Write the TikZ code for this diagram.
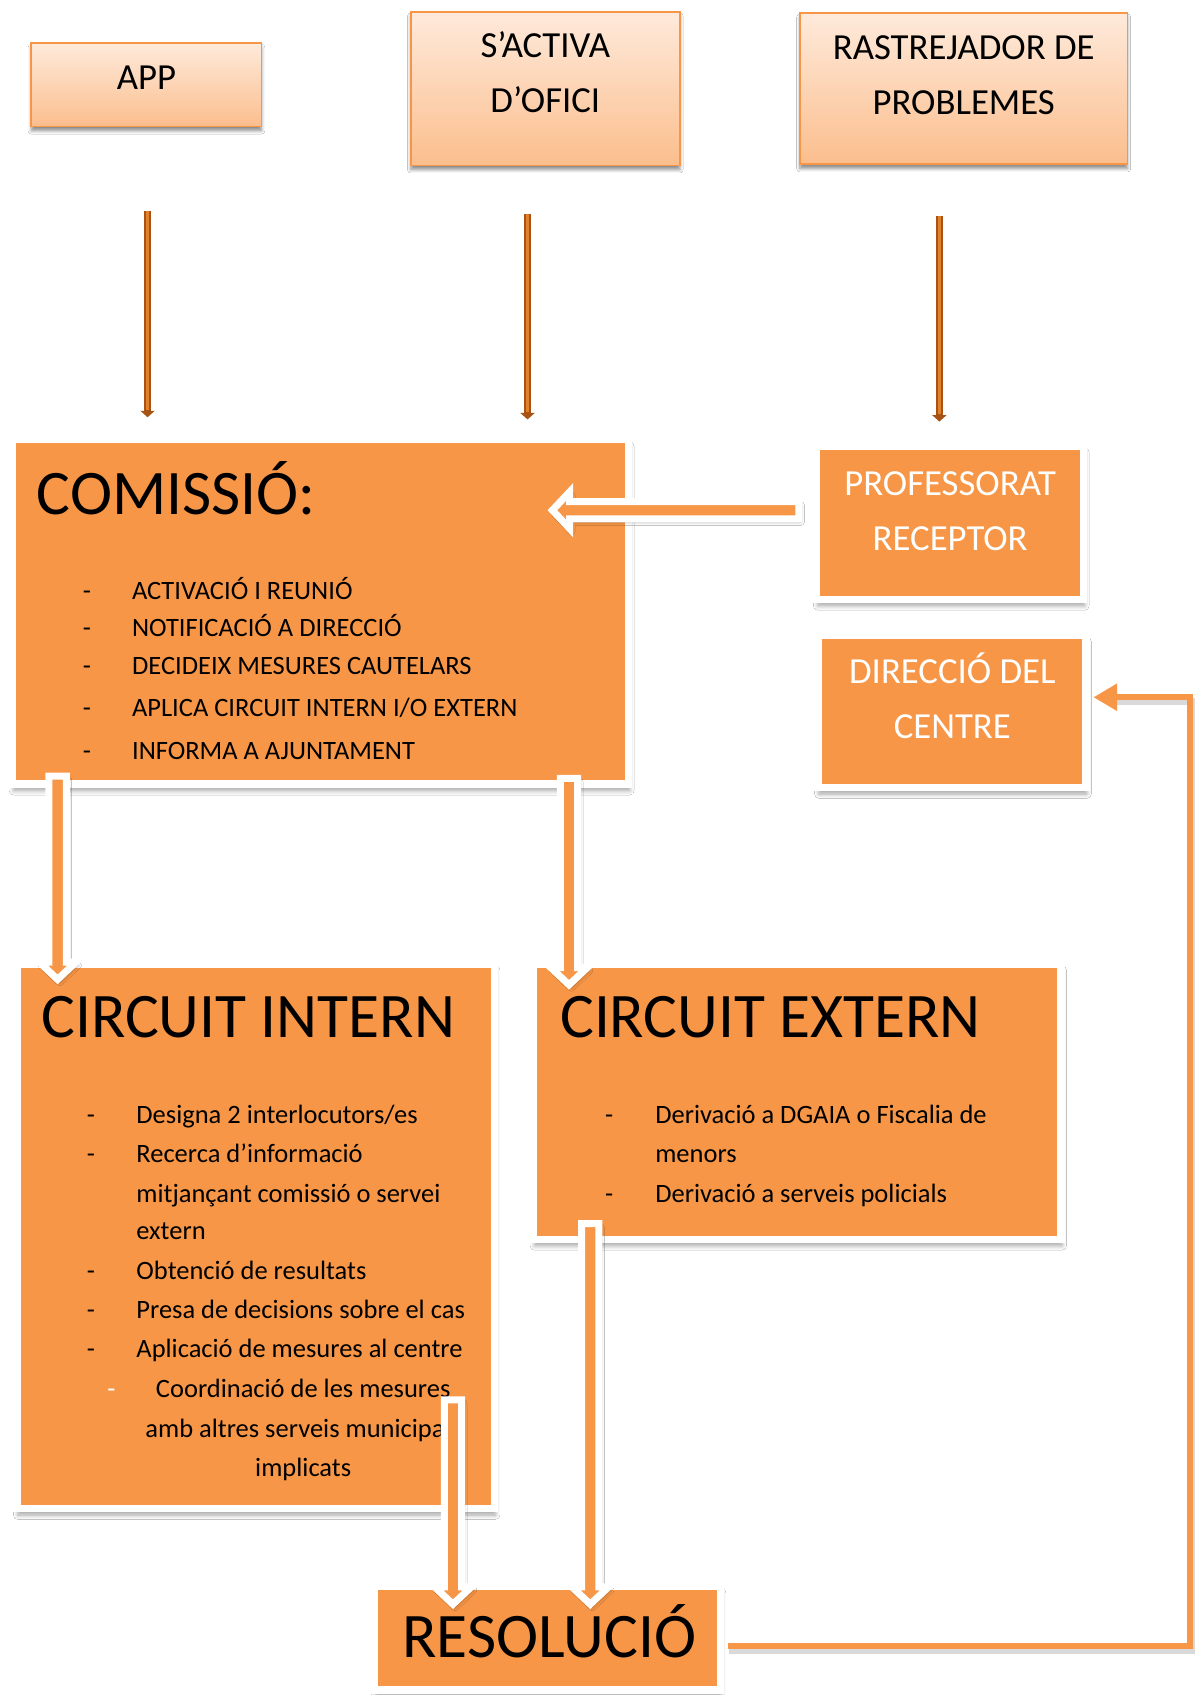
\documentclass[tikz,border=0pt]{standalone}
\usepackage{fontspec}
\setmainfont{Carlito}
\usetikzlibrary{calc,arrows.meta,shadows.blur}
\definecolor{org}{HTML}{F79646}
\definecolor{peachtop}{HTML}{FEEADB}
\definecolor{peachbot}{HTML}{FBBE8D}
\definecolor{brownout}{HTML}{A65314}
\definecolor{brownin}{HTML}{E2802C}
\begin{document}
\begin{tikzpicture}[x=1pt,y=-1pt,
  topbox/.style={rectangle, inner sep=0pt, draw=org, line width=1.6pt, top color=peachtop, bottom color=peachbot,
    blur shadow={shadow xshift=0pt, shadow yshift=-4pt, shadow blur radius=3pt, shadow blur steps=6, shadow opacity=45}},
  obox/.style={rectangle, inner sep=0pt, draw=white, line width=7pt, fill=org,
    blur shadow={shadow xshift=1pt, shadow yshift=-6pt, shadow blur radius=4pt, shadow blur steps=6, shadow opacity=35}},
  toptxt/.style={font=\fontsize{34}{40}\selectfont, anchor=base, inner sep=0pt},
  wtxt/.style={toptxt, text=white},
  bigtxt/.style={font=\fontsize{58.7}{70}\selectfont, anchor=base west, inner sep=0pt},
  itemtxt/.style={font=\fontsize{24.5}{30}\selectfont, anchor=base west, inner sep=0pt},
  ctrtxt/.style={font=\fontsize{24.5}{30}\selectfont, anchor=base, inner sep=0pt},
  dashtxt/.style={font=\fontsize{24.5}{30}\selectfont, anchor=base, inner sep=0pt},
  blockarrow/.style={draw=white, fill=org, line width=6.5pt, line join=miter, miter limit=10,
    blur shadow={shadow xshift=2pt, shadow yshift=-3pt, shadow blur radius=3pt, shadow blur steps=5, shadow opacity=30}},
  thinout/.style={draw=brownout, line width=6pt, -{Triangle[length=6pt,width=13pt]}},
  thinin/.style={draw=brownin, line width=2.4pt, shorten >=7pt},
  retline/.style={draw=org, line width=6pt, line join=miter, -{Triangle[length=22pt,width=24pt]}},
  retshadow/.style={draw=black, opacity=0.15, line width=7pt, line join=miter}
]
\useasboundingbox (0,0) rectangle (1108,1568);
\fill[white] (0,0) rectangle (1108,1568);

% ---------- top boxes ----------
\node[topbox, minimum width=213pt, minimum height=77pt] (app) at (135.5,78.5) {};
\node[topbox, minimum width=249pt, minimum height=142pt] (ofici) at (504.5,82) {};
\node[topbox, minimum width=303pt, minimum height=140pt] (rastr) at (891.5,82) {};

\node[toptxt] (tapp) at (135.5,83) {APP};
\node[toptxt] (tofici1) at (504.5,53) {S’ACTIVA};
\node[toptxt] (tofici2) at (504.5,104) {D’OFICI};
\node[toptxt] (trastr1) at (891.5,55) {RASTREJADOR DE};
\node[toptxt] (trastr2) at (891.5,106) {PROBLEMES};

% ---------- thin arrows ----------
\coordinate (t1s) at (136.5,195); \coordinate (t1e) at (136.5,386);
\coordinate (t2s) at (488,198);   \coordinate (t2e) at (488,388);
\coordinate (t3s) at (869,200);   \coordinate (t3e) at (869,390);
\draw[thinout] (t1s) -- (t1e); \draw[thinin] (t1s) -- (t1e);
\draw[thinout] (t2s) -- (t2e); \draw[thinin] (t2s) -- (t2e);
\draw[thinout] (t3s) -- (t3e); \draw[thinin] (t3s) -- (t3e);

% ---------- orange boxes ----------
\node[obox, minimum width=570pt, minimum height=319pt] (comissio) at (296.5,566) {};
\node[obox, minimum width=247pt, minimum height=142pt] (prof) at (879,483.5) {};
\node[obox, minimum width=248pt, minimum height=141pt] (direccio) at (880.5,658) {};
\node[obox, minimum width=442pt, minimum height=504pt] (intern) at (236.5,1143.5) {};
\node[obox, minimum width=488pt, minimum height=255pt] (extern) at (737.5,1019) {};
\node[obox, minimum width=320pt, minimum height=96pt] (resol) at (506.5,1515.5) {};

% COMISSIO text
\node[bigtxt] (tcom) at (34,476) {COMISSIÓ:};
\node[dashtxt] (cd1) at (80.5,555) {-}; \node[itemtxt] (ci1) at (122,555) {ACTIVACIÓ I REUNIÓ};
\node[dashtxt] (cd2) at (80.5,589) {-}; \node[itemtxt] (ci2) at (122,589) {NOTIFICACIÓ A DIRECCIÓ};
\node[dashtxt] (cd3) at (80.5,624) {-}; \node[itemtxt] (ci3) at (122,624) {DECIDEIX MESURES CAUTELARS};
\node[dashtxt] (cd4) at (80.5,663) {-}; \node[itemtxt] (ci4) at (122,663) {APLICA CIRCUIT INTERN I/O EXTERN};
\node[dashtxt] (cd5) at (80.5,703) {-}; \node[itemtxt] (ci5) at (122,703) {INFORMA A AJUNTAMENT};

% PROFESSORAT / DIRECCIO
\node[wtxt] (tprof1) at (879,458) {PROFESSORAT};
\node[wtxt] (tprof2) at (879,509) {RECEPTOR};
\node[wtxt] (tdir1) at (881,632) {DIRECCIÓ DEL};
\node[wtxt] (tdir2) at (881,683) {CENTRE};

% CIRCUIT INTERN
\node[bigtxt] (tint) at (38,960) {CIRCUIT INTERN};
\node[dashtxt] (id1) at (84,1039) {-}; \node[itemtxt] (ii1) at (126,1039) {Designa 2 interlocutors/es};
\node[dashtxt] (id2) at (84,1075) {-}; \node[itemtxt] (ii2) at (126,1075) {Recerca d’informació};
\node[itemtxt] (ii2b) at (126,1112) {mitjançant comissió o servei};
\node[itemtxt] (ii2c) at (126,1147) {extern};
\node[dashtxt] (id3) at (84,1184) {-}; \node[itemtxt] (ii3) at (126,1184) {Obtenció de resultats};
\node[dashtxt] (id4) at (84,1220) {-}; \node[itemtxt] (ii4) at (126,1220) {Presa de decisions sobre el cas};
\node[dashtxt] (id5) at (84,1256) {-}; \node[itemtxt] (ii5) at (126,1256) {Aplicació de mesures al centre};
\node[dashtxt, text=white] (id6) at (103,1293) {-};
\node[ctrtxt] (ii6) at (280.5,1293) {Coordinació de les mesures};
\node[ctrtxt] (ii6b) at (280.5,1330) {amb altres serveis municipals};
\node[ctrtxt] (ii6c) at (280.5,1366) {implicats};

% CIRCUIT EXTERN
\node[bigtxt] (text) at (518,960) {CIRCUIT EXTERN};
\node[dashtxt] (ed1) at (563.5,1039) {-}; \node[itemtxt] (ei1) at (606,1039) {Derivació a DGAIA o Fiscalia de};
\node[itemtxt] (ei1b) at (606,1075) {menors};
\node[dashtxt] (ed2) at (563.5,1112) {-}; \node[itemtxt] (ei2) at (606,1112) {Derivació a serveis policials};

% RESOLUCIO
\node[bigtxt] (tres) at (372,1533) {RESOLUCIÓ};

% ---------- block arrows ----------
\coordinate (pa) at (739,472); \coordinate (pb) at (511,472);
\draw[blockarrow] ($(pa)+(0,-8)$) -- ($(pb)+(16,-8)$) -- ($(pb)+(16,-17)$) -- (pb) -- ($(pb)+(16,17)$) -- ($(pb)+(16,8)$) -- ($(pa)+(0,8)$) -- cycle;

\coordinate (c1a) at (53.3,718); \coordinate (c1b) at (53.3,906);
\draw[blockarrow] ($(c1a)+(-8,0)$) -- ($(c1b)+(-8,-16)$) -- ($(c1b)+(-17,-16)$) -- (c1b) -- ($(c1b)+(17,-16)$) -- ($(c1b)+(8,-16)$) -- ($(c1a)+(8,0)$) -- cycle;

\coordinate (c2a) at (526.4,720); \coordinate (c2b) at (526.4,911);
\draw[blockarrow] ($(c2a)+(-8,0)$) -- ($(c2b)+(-8,-16)$) -- ($(c2b)+(-17,-16)$) -- (c2b) -- ($(c2b)+(17,-16)$) -- ($(c2b)+(8,-16)$) -- ($(c2a)+(8,0)$) -- cycle;

\coordinate (i1a) at (419,1295); \coordinate (i1b) at (419,1484);
\draw[blockarrow] ($(i1a)+(-8,0)$) -- ($(i1b)+(-8,-16)$) -- ($(i1b)+(-17,-16)$) -- (i1b) -- ($(i1b)+(17,-16)$) -- ($(i1b)+(8,-16)$) -- ($(i1a)+(8,0)$) -- cycle;

\coordinate (e1a) at (546,1132); \coordinate (e1b) at (546,1484);
\draw[blockarrow] ($(e1a)+(-8,0)$) -- ($(e1b)+(-8,-16)$) -- ($(e1b)+(-17,-16)$) -- (e1b) -- ($(e1b)+(17,-16)$) -- ($(e1b)+(8,-16)$) -- ($(e1a)+(8,0)$) -- cycle;

% ---------- return line ----------
\coordinate (r0) at ($(resol.east)+(3.5,7)$);
\coordinate (r1) at (1101,1522.5);
\coordinate (r2) at (1101,645);
\coordinate (r3) at ($(direccio.east)+(3.5,-13)$);
\draw[retshadow] ($(r0)+(1,4)$) -- ($(r1)+(1,4)$) -- ($(r2)+(1,4)$) -- ($(r3)+(22,4)$);
\draw[retline] (r0) -- (r1) -- (r2) -- (r3);
\end{tikzpicture}
\end{document}
